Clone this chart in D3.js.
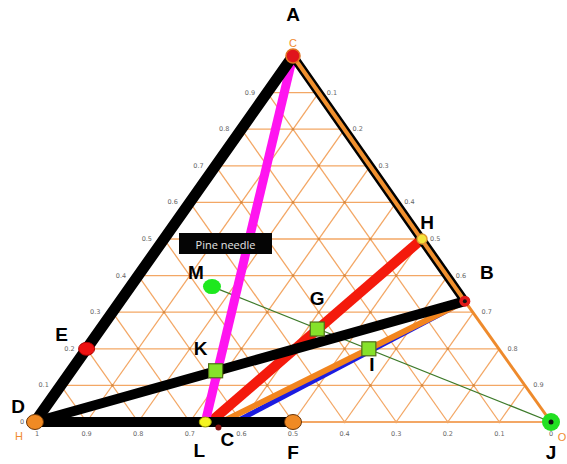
<!DOCTYPE html>
<html>
<head>
<meta charset="utf-8">
<script src="https://cdn.jsdelivr.net/npm/d3@7"></script>
<style>
  html, body { margin: 0; padding: 0; background: #fff; }
  svg { display: block; }
  .lbl { font-family: "Liberation Sans", Arial, sans-serif; font-weight: bold; font-size: 19px; fill: #000; }
  .tick { font-family: "DejaVu Sans", sans-serif; font-size: 6.5px; fill: #666; }
  .corner { font-family: "Liberation Sans", Arial, sans-serif; font-size: 11px; fill: #f08a30; }
</style>
</head>
<body>
<svg id="chart" width="567" height="464"></svg>
<script>
// ternary values: c = top axis (C), o = right axis (O), h = 1 - c - o
const tickValues = [0.1, 0.2, 0.3, 0.4, 0.5, 0.6, 0.7, 0.8, 0.9];
const tickLabels = ["0.1", "0.2", "0.3", "0.4", "0.5", "0.6", "0.7", "0.8", "0.9"];

const pointNames = ["A", "B", "H", "E", "D", "F", "J", "L", "C", "M", "K", "G", "I"];
const pointC     = [1.0, 0.33, 0.5, 0.2, 0.0, 0.0, 0.0, 0.0, -0.015, 0.37, 0.14, 0.254, 0.2];
const pointO     = [0.0, 0.668, 0.5, 0.0, 0.0, 0.5, 1.0, 0.33, 0.363, 0.158, 0.28, 0.42, 0.547];

// unlabelled line ends on the H axis
const endNames = ["redEnd", "orangeEnd", "blueEnd"];
const endC     = [0.0, 0.0, 0.0];
const endO     = [0.34, 0.362, 0.388];

const lineFrom = ["M", "B", "B", "H", "A", "D", "D", "A", "A"];
const lineTo   = ["J", "blueEnd", "orangeEnd", "redEnd", "L", "B", "F", "D", "B"];

const noteText = "Pine needle";

const svg = d3.select("#chart");

const x = d3.scaleLinear().domain([0, 1]).range([35, 551]);
const y = d3.scaleLinear().domain([0, 1]).range([422, 56]);
const proj = (c, o) => [x(o + c / 2), y(c)];

const pts = {};
pointNames.forEach((n, i) => pts[n] = proj(pointC[i], pointO[i]));
endNames.forEach((n, i) => pts[n] = proj(endC[i], endO[i]));

const gridColor = "#f3a765";
const grid = svg.append("g");

// grid lines in three directions
const gridSegs = [];
tickValues.forEach(k => {
  gridSegs.push([proj(k, 0), proj(k, 1 - k)]);        // constant C
  gridSegs.push([proj(0, k), proj(1 - k, k)]);        // constant O
  gridSegs.push([proj(0, 1 - k), proj(1 - k, 0)]);    // constant H
});
grid.selectAll("line.g")
  .data(gridSegs)
  .enter().append("line")
  .attr("x1", d => d[0][0]).attr("y1", d => d[0][1])
  .attr("x2", d => d[1][0]).attr("y2", d => d[1][1])
  .attr("stroke", gridColor)
  .attr("stroke-width", 1.3);

// small dots at grid crossings
const crossings = [];
tickValues.forEach(c => tickValues.forEach(o => { if (c + o < 0.999) crossings.push(proj(c, o)); }));
tickValues.forEach(k => { crossings.push(proj(0, k)); });
grid.selectAll("circle")
  .data(crossings)
  .enter().append("circle")
  .attr("cx", d => d[0]).attr("cy", d => d[1])
  .attr("r", 1.3)
  .attr("fill", "#d88a40");

// bottom edge F-J and right edge B-J
grid.append("line")
  .attr("x1", x(0)).attr("y1", y(0)).attr("x2", x(1)).attr("y2", y(0))
  .attr("stroke", gridColor).attr("stroke-width", 1.8);
grid.append("line")
  .attr("x1", pts.B[0]).attr("y1", pts.B[1]).attr("x2", pts.J[0]).attr("y2", pts.J[1])
  .attr("stroke", "#ee8a2c").attr("stroke-width", 3);

// tick labels
const ticks = svg.append("g");
ticks.selectAll("text.l")
  .data(tickValues)
  .enter().append("text")
  .attr("class", "tick")
  .attr("x", d => proj(d, 0)[0] - 12)
  .attr("y", d => proj(d, 0)[1] + 2)
  .attr("text-anchor", "end")
  .text((d, i) => tickLabels[i]);
ticks.selectAll("text.b")
  .data(tickValues)
  .enter().append("text")
  .attr("class", "tick")
  .attr("x", d => proj(0, 1 - d)[0])
  .attr("y", y(0) + 14)
  .attr("text-anchor", "middle")
  .text((d, i) => tickLabels[i]);
ticks.selectAll("text.r")
  .data(tickValues)
  .enter().append("text")
  .attr("class", "tick")
  .attr("x", d => proj(1 - d, d)[0] + 8)
  .attr("y", d => proj(1 - d, d)[1] + 2)
  .attr("text-anchor", "start")
  .text((d, i) => tickLabels[i]);
ticks.append("text").attr("class", "tick").attr("x", x(0) + 2).attr("y", y(0) + 14).attr("text-anchor", "middle").text("1");
ticks.append("text").attr("class", "tick").attr("x", x(0) - 13).attr("y", y(0) + 2).attr("text-anchor", "middle").text("0");
ticks.append("text").attr("class", "tick").attr("x", x(1)).attr("y", y(0) + 14).attr("text-anchor", "middle").text("0");

// corner axis names
svg.append("text").attr("class", "corner").attr("x", proj(1, 0)[0]).attr("y", proj(1, 0)[1] - 9).attr("text-anchor", "middle").text("C");
svg.append("text").attr("class", "corner").attr("x", x(0) - 16).attr("y", y(0) + 18).attr("text-anchor", "middle").text("H");
svg.append("text").attr("class", "corner").attr("x", x(1) + 11).attr("y", y(0) + 19).attr("text-anchor", "middle").text("O");

// process lines
const lineStyle = {
  "M-J": { color: "#3d7a2a", width: 1.3 },
  "B-blueEnd": { color: "#1c1ce0", width: 5 },
  "B-orangeEnd": { color: "#f2851e", width: 6 },
  "H-redEnd": { color: "#f41a0c", width: 10 },
  "A-L": { color: "#ff14f0", width: 9 },
  "D-B": { color: "#000", width: 10 },
  "D-F": { color: "#000", width: 10 },
  "A-D": { color: "#000", width: 11 },
  "A-B": { color: "#000", width: 9 }
};
const lines = lineFrom.map((f, i) => ({ from: f, to: lineTo[i], key: f + "-" + lineTo[i] }));
svg.append("g").selectAll("line")
  .data(lines)
  .enter().append("line")
  .attr("x1", d => pts[d.from][0]).attr("y1", d => pts[d.from][1])
  .attr("x2", d => pts[d.to][0]).attr("y2", d => pts[d.to][1])
  .attr("stroke", d => lineStyle[d.key].color)
  .attr("stroke-width", d => lineStyle[d.key].width)
  .attr("stroke-linecap", d => lineStyle[d.key].color === "#000" ? "round" : "butt");
// orange core of A-B
svg.append("line")
  .attr("x1", pts.A[0]).attr("y1", pts.A[1]).attr("x2", pts.B[0]).attr("y2", pts.B[1])
  .attr("stroke", "#f0902e").attr("stroke-width", 4);

// markers
const marker = svg.append("g");
const circ = (p, r, fill, stroke, sw) => marker.append("circle")
  .attr("cx", p[0]).attr("cy", p[1]).attr("r", r)
  .attr("fill", fill).attr("stroke", stroke || "none").attr("stroke-width", sw || 1);
const ell = (p, rx, ry, fill, stroke) => marker.append("ellipse")
  .attr("cx", p[0]).attr("cy", p[1]).attr("rx", rx).attr("ry", ry)
  .attr("fill", fill).attr("stroke", stroke || "none").attr("stroke-width", 1);

circ(pts.A, 7, "#e0141c", "#e07020", 1.5);
circ(pts.B, 5.5, "#e01818");
circ(pts.B, 2, "#111");
circ(pts.H, 5, "#f4e43a", "#e09a30", 1.5);
ell(pts.E, 8, 6.5, "#ee1111", "#a00");
ell(pts.D, 8.5, 7.5, "#f08a24", "#6a3508");
ell(pts.F, 8.5, 7.5, "#f08a24", "#6a3508");
circ(pts.J, 9, "#22e022");
circ(pts.J, 2.5, "#111");
ell(pts.L, 6, 5, "#f4f420", "#a0a000");
circ(pts.C, 3, "#8a1010");
ell(pts.M, 9, 7.5, "#1ee81e");

const sq = 14;
marker.selectAll("rect")
  .data(["K", "G", "I"])
  .enter().append("rect")
  .attr("x", d => pts[d][0] - sq / 2)
  .attr("y", d => pts[d][1] - sq / 2)
  .attr("width", sq).attr("height", sq)
  .attr("fill", "#86e22a")
  .attr("stroke", "#4f6d18")
  .attr("stroke-width", 1.2);

// point letters
const labelOffset = {
  A: [0, -42], B: [22, -29], H: [5, -17], E: [-25, -14], D: [-17, -16],
  F: [0, 30], J: [0, 30], L: [-6, 28], C: [9, 12], M: [-16, -14],
  K: [-15, -22], G: [0, -31], I: [3, 16]
};
svg.append("g").selectAll("text")
  .data(pointNames)
  .enter().append("text")
  .attr("class", "lbl")
  .attr("x", d => pts[d][0] + labelOffset[d][0])
  .attr("y", d => pts[d][1] + labelOffset[d][1])
  .attr("text-anchor", "middle")
  .attr("dominant-baseline", "central")
  .text(d => d);

// note box
const note = svg.append("g").attr("transform", "translate(179,233)");
note.append("rect").attr("width", 93).attr("height", 21).attr("fill", "#050505");
note.append("text")
  .attr("x", 46.5).attr("y", 11)
  .attr("text-anchor", "middle")
  .attr("dominant-baseline", "central")
  .attr("font-family", "'Open Sans', 'Noto Sans', sans-serif")
  .attr("font-size", 11)
  .attr("fill", "#e4e4e4")
  .text(noteText);
</script>
</body>
</html>
